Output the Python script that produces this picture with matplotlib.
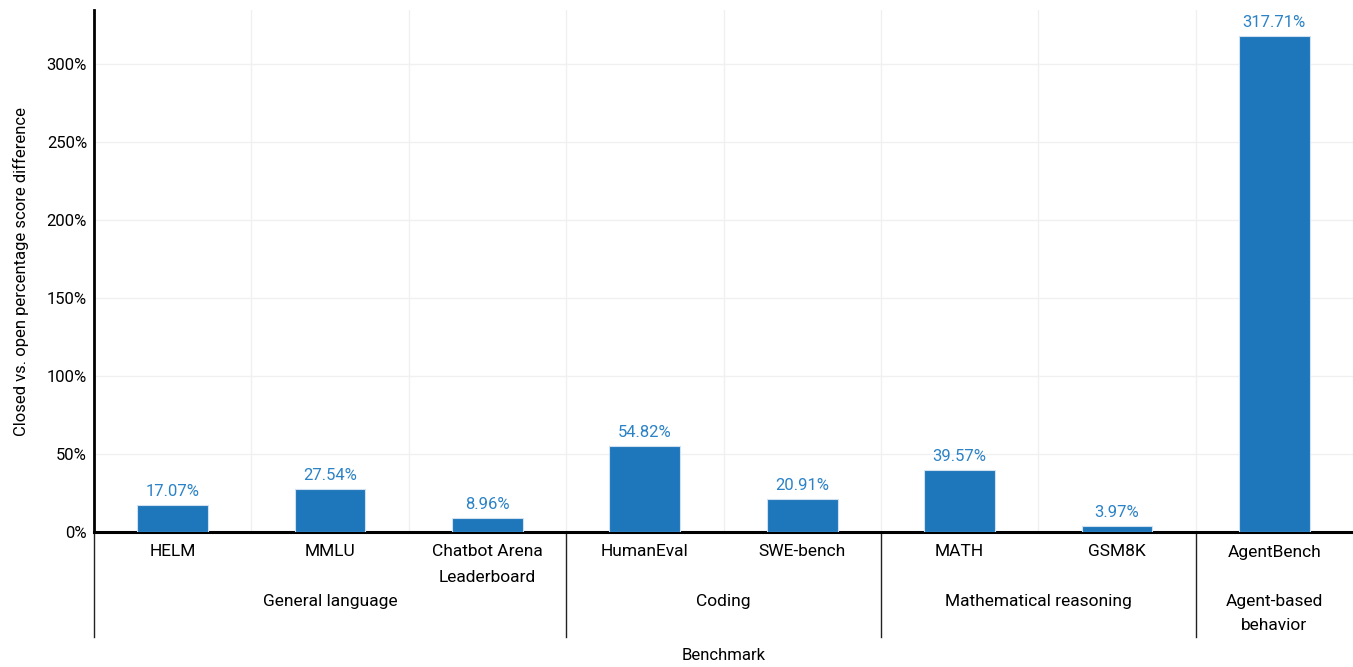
import numpy as np
import matplotlib.pyplot as plt
import matplotlib.transforms as mtransforms
from matplotlib.ticker import FuncFormatter

# data
benchmarks = ["HELM", "MMLU", "Chatbot Arena\nLeaderboard", "HumanEval", "SWE-bench",
              "MATH", "GSM8K", "AgentBench"]
differences = [17.07, 27.54, 8.96, 54.82, 20.91, 39.57, 3.97, 317.71]
groups = ["General language", "Coding", "Mathematical reasoning", "Agent-based\nbehavior"]
group_sizes = [3, 2, 2, 1]

plt.rcParams['font.family'] = ['Roboto', 'DejaVu Sans']

bar_color = "#1f77bb"
label_color = "#2b82c6"

fig = plt.figure(figsize=(13.53, 6.67), dpi=100)
ax = fig.add_axes([94 / 1353, 135 / 667, 1 - 94 / 1353, 522 / 667])

x = np.arange(len(benchmarks))
bars = ax.bar(x, differences, width=0.45, color=bar_color, edgecolor="#cfe0f0",
              linewidth=0.8, zorder=3)
for b, v in zip(bars, differences):
    ax.text(b.get_x() + b.get_width() / 2, v + 4, "{:.2f}%".format(v), ha="center",
            va="bottom", color=label_color, fontsize=12)

ax.set_xlim(-0.5, len(benchmarks) - 0.5)
ax.set_ylim(0, 334.5)
ax.set_yticks(np.arange(0, 301, 50))
ax.yaxis.set_major_formatter(FuncFormatter(lambda v, p: "{:d}%".format(int(v))))
ax.set_xticks(x)
ax.set_xticklabels(benchmarks, fontsize=12.5, linespacing=1.9)
ax.tick_params(axis="both", length=0)
ax.tick_params(axis="x", pad=9)
ax.tick_params(axis="y", labelsize=12, pad=5)

# light grid: horizontal at ticks, vertical between categories
for yv in np.arange(50, 301, 50):
    ax.axhline(yv, color="#f0f0f0", linewidth=1, zorder=0)
for xv in np.arange(0.5, len(benchmarks) - 0.5, 1):
    ax.axvline(xv, color="#f0f0f0", linewidth=1, zorder=0)

for s in ["top", "right"]:
    ax.spines[s].set_visible(False)
ax.spines["left"].set_linewidth(2)
ax.spines["bottom"].set_linewidth(2.2)

# group separators and labels below the axis
trans = mtransforms.blended_transform_factory(ax.transData, ax.transAxes)
bounds = [-0.5]
for n in group_sizes:
    bounds.append(bounds[-1] + n)
for bx in bounds[:-1]:
    ax.plot([bx, bx], [0, -0.201], transform=trans, color="#222222", linewidth=1,
            clip_on=False)
for i, g in enumerate(groups):
    cx = (bounds[i] + bounds[i + 1]) / 2
    ax.text(cx, -0.118, g, transform=trans, ha="center", va="top", fontsize=12.5,
            linespacing=1.8)

ax.text(0.5, -0.222, "Benchmark", transform=ax.transAxes, ha="center", va="top",
        fontsize=12)
ax.set_ylabel("Closed vs. open percentage score difference", fontsize=12, labelpad=13)

fig.savefig("out.png", dpi=100)
